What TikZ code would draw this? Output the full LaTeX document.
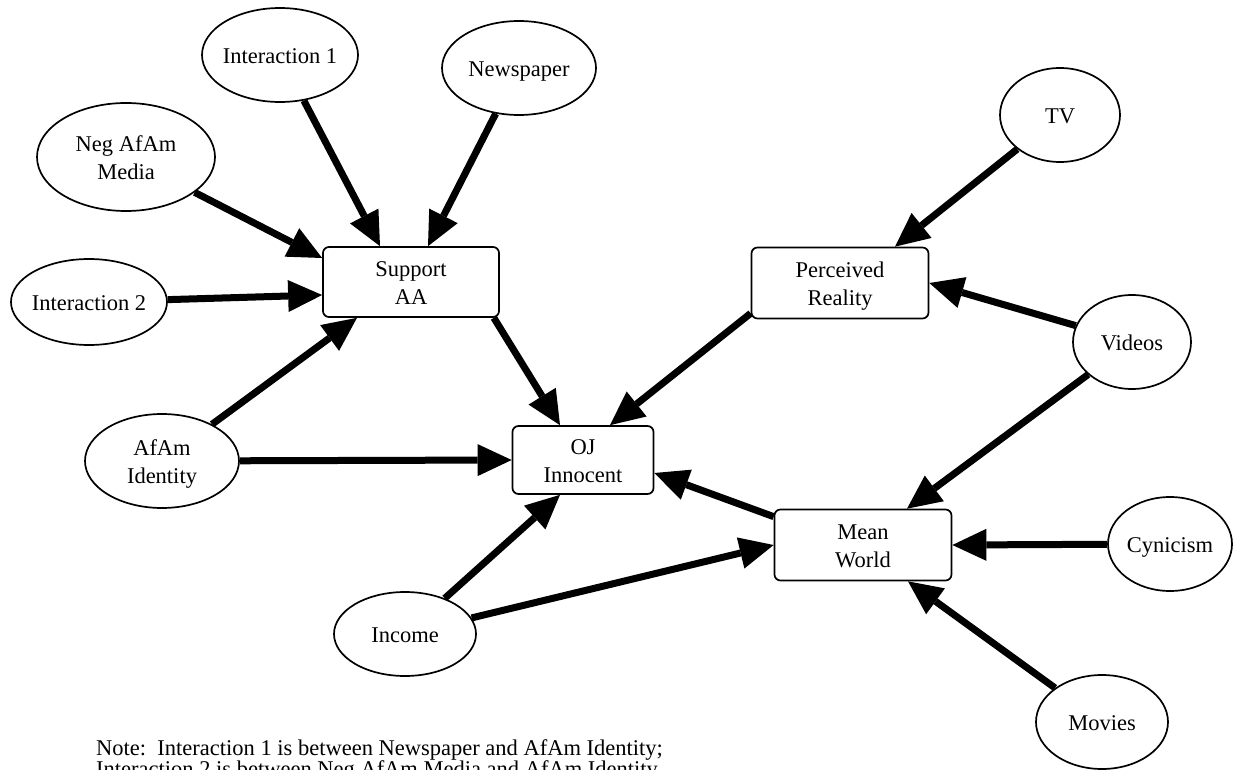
\documentclass[tikz,border=0pt]{standalone}
\usepackage{fontspec}
\setmainfont{Liberation Serif}
\usetikzlibrary{shapes.geometric,arrows.meta}
\newcommand{\mytxt}[1]{\makebox[0pt]{\raisebox{-3pt}[\height][\depth]{\begin{tabular}{@{}c@{}}#1\end{tabular}}}}
\begin{document}
\begin{tikzpicture}[x=1pt,y=-1pt,
  every node/.style={font=\fontsize{22.5}{28}\selectfont, inner sep=0pt},
  ell/.style={draw, ellipse, line width=1.7pt},
  box/.style={draw, rectangle, rounded corners=6pt, line width=1.7pt, minimum width=177pt, minimum height=71pt},
  arr/.style={line width=7pt, -{Triangle[length=34pt,width=32pt,line width=0pt]}}]
\useasboundingbox (0,0) rectangle (1237,770);
\fill[white] (0,0) rectangle (1237,770);
% ellipses
\node[ell, minimum width=156pt, minimum height=94pt] (int1) at (280,55) {\mytxt{Interaction 1}};
\node[ell, minimum width=154pt, minimum height=94pt] (news) at (519,68) {\mytxt{Newspaper}};
\node[ell, minimum width=178pt, minimum height=108pt] (neg) at (126,157) {\mytxt{Neg AfAm\\Media}};
\node[ell, minimum width=156pt, minimum height=86pt] (int2) at (89,302) {\mytxt{Interaction 2}};
\node[ell, minimum width=154pt, minimum height=94pt] (afam) at (162,461) {\mytxt{AfAm\\Identity}};
\node[ell, minimum width=142pt, minimum height=84pt] (income) at (405,634) {\mytxt{Income}};
\node[ell, minimum width=120pt, minimum height=94pt] (tv) at (1060,115) {\mytxt{TV}};
\node[ell, minimum width=118pt, minimum height=94pt] (videos) at (1132,342) {\mytxt{Videos}};
\node[ell, minimum width=124pt, minimum height=94pt] (cyn) at (1170,544) {\mytxt{Cynicism}};
\node[ell, minimum width=132pt, minimum height=94pt] (movies) at (1102,722) {\mytxt{Movies}};
% boxes
\node[box, minimum width=176pt, minimum height=70pt] (saa) at (411,282) {\mytxt{Support\\AA}};
\node[box] (pr) at (840,283) {\mytxt{Perceived\\Reality}};
\node[box, minimum width=141pt, minimum height=68pt] (oj) at (583,460) {\mytxt{OJ\\Innocent}};
\node[box] (mw) at (863,545) {\mytxt{Mean\\World}};
% arrows
\draw[arr] (int1) -- ([xshift=-31pt]saa.north);
\draw[arr] (news) -- ([xshift=17pt]saa.north);
\draw[arr] (neg) -- ([yshift=24pt]saa.west);
\draw[arr] (int2) -- ([yshift=-13pt]saa.west);
\draw[arr] (afam) -- ([xshift=-54pt]saa.south);
\draw[arr] (afam) -- (oj.west);
\draw[arr] ([xshift=-6pt]saa.south east) -- ([xshift=-23pt]oj.north);
\draw[arr] ([yshift=6pt]pr.south west) -- ([xshift=27pt]oj.north);
\draw[arr] ([yshift=-8pt]mw.north west) -- ([yshift=-13pt]oj.east);
\draw[arr] (income) -- ([xshift=-23pt]oj.south);
\draw[arr] (income) -- (mw.west);
\draw[arr] (tv) -- ([xshift=55pt]pr.north);
\draw[arr] (videos) -- (pr.east);
\draw[arr] (videos) -- ([xshift=44pt]mw.north);
\draw[arr] (cyn) -- (mw.east);
\draw[arr] (movies) -- ([xshift=45pt]mw.south);
% note
\node[anchor=base west] (note1) at (96,755) {Note:\ \ Interaction 1 is between Newspaper and AfAm Identity;};
\node[anchor=base west] (note2) at (96,776) {Interaction 2 is between Neg AfAm Media and AfAm Identity.};
\end{tikzpicture}
\end{document}
